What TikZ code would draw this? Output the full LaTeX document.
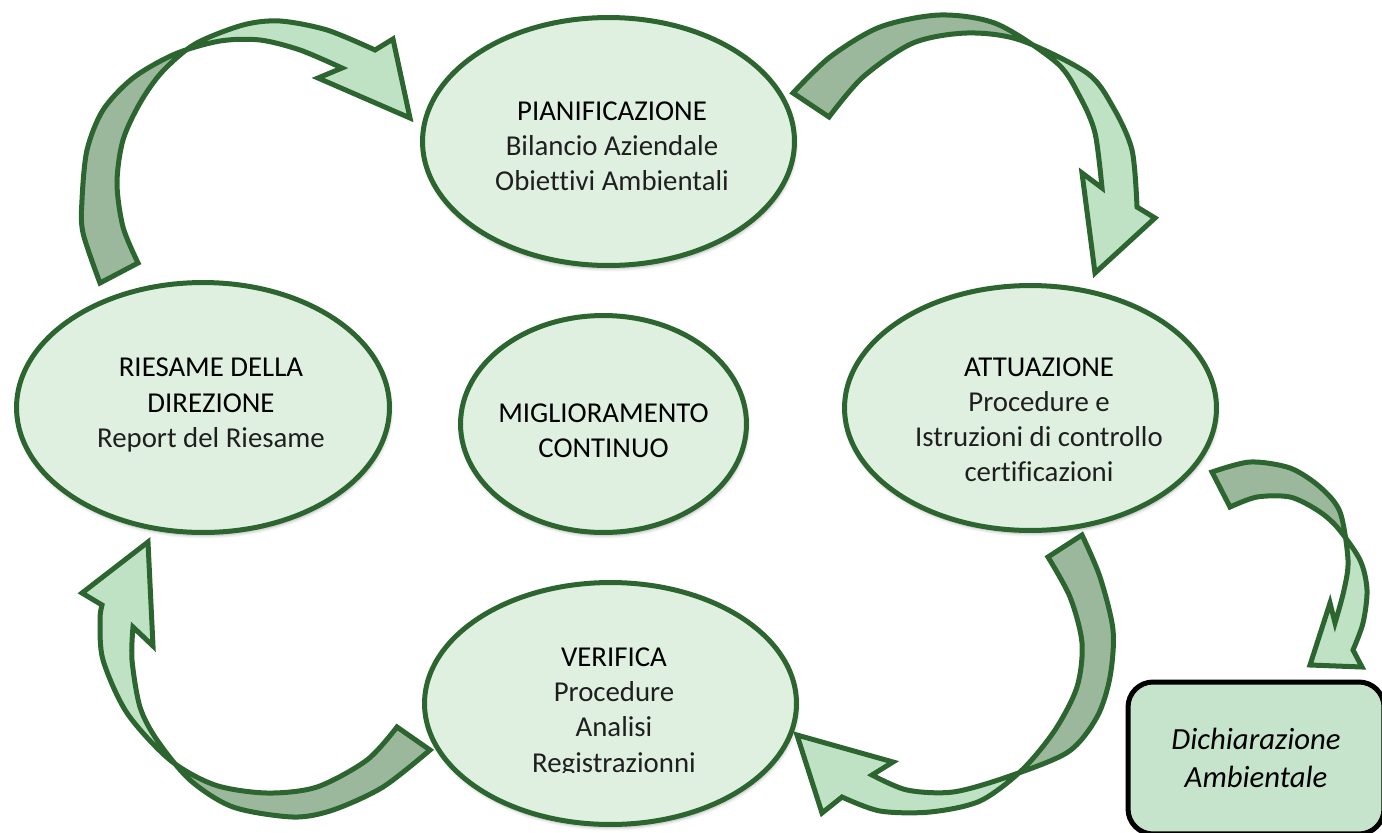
\documentclass[tikz,border=0pt]{standalone}
\usepackage{fontspec}
\setmainfont[Ligatures=NoCommon]{Carlito}
\usetikzlibrary{shapes.geometric,shadows.blur}
\definecolor{verde}{HTML}{2C6530}
\definecolor{verdechiaro}{HTML}{DFF0E1}
\definecolor{frecciachiara}{HTML}{C0E2C4}
\definecolor{frecciascura}{HTML}{9BB89D}
\definecolor{boxverde}{HTML}{C6E4CB}
\newcommand{\tit}[1]{\textcolor{black}{#1}}

% frecce ritorte: bordo interno della coda -> punta -> bordo esterno della coda
\def\frecciaUno{plot[smooth] coordinates {(829,117) (863,77) (913,43) (967,33) (1020,40) (1087,73) (1113,107) (1132,150) (1137,207)}
  -- (1155,218) -- (1095,273) -- (1082,173)
  -- plot[smooth] coordinates {(1102,188) (1095,133) (1080,97) (1057,63) (997,24) (940,15) (880,27) (830,57) (793,93)} -- cycle}
\def\frecciaDue{plot[smooth] coordinates {(1048,557) (1070,597) (1082,643) (1077,687) (1055,730) (1022,770) (980,801) (930,812) (880,811) (842,797)}
  -- (822,813) -- (797,735) -- (893,762)
  -- plot[smooth] coordinates {(872,775) (907,790) (953,792) (1007,777) (1068,752) (1097,717) (1110,677) (1113,630) (1100,577) (1082,535)} -- cycle}
\def\frecciaTre{plot[smooth] coordinates {(397,727) (367,760) (317,787) (267,793) (215,785) (170,760) (127,713) (103,660) (100,620) (102,605)}
  -- (82,593) -- (148,542) -- (153,646)
  -- plot[smooth] coordinates {(133,627) (132,660) (140,707) (157,740) (190,780) (233,807) (293,817) (333,810) (383,787) (430,750)} -- cycle}
\def\frecciaQuattro{plot[smooth] coordinates {(138,263) (123,227) (117,183) (123,140) (140,103) (162,72) (195,44) (243,25) (280,21) (327,30) (375,50)}
  -- (393,39) -- (410,118) -- (318,78)
  -- plot[smooth] coordinates {(342,68) (300,50) (260,40) (220,41) (175,54) (133,78) (103,110) (87,150) (82,200) (83,233) (100,283)} -- cycle}
\def\frecciaCinque{plot[smooth] coordinates {(1230,507) (1257,497) (1290,497) (1317,510) (1337,527) (1360,560) (1367,590) (1363,623) (1353,650)}
  -- (1362,667) -- (1310,665) -- (1330,603)
  -- plot[smooth] coordinates {(1335,623) (1344,590) (1348,560) (1340,512) (1320,487) (1290,468) (1250,462) (1212,472)} -- cycle}

\begin{document}
\begin{tikzpicture}[x=0.02cm,y=-0.02cm,
  fase/.style={ellipse,draw=verde,line width=0.1cm,fill=verdechiaro,
    blur shadow={shadow xshift=0.6pt,shadow yshift=-1.8pt,shadow opacity=30,shadow blur steps=6}},
  testo/.style={align=center,font=\fontsize{16.4pt}{20pt}\selectfont,text=black!88},
  bordo/.style={draw=verde,line width=0.1cm,line join=miter,miter limit=4},
  dichbox/.style={rectangle,rounded corners=0.5cm,draw=black,line width=0.1cm,fill=boxverde,
    align=center,font=\fontsize{17.5pt}{21.5pt}\selectfont\itshape,
    minimum width=5.12cm,minimum height=3.04cm}]
  \useasboundingbox (0,0) rectangle (1382,832);

  % --- fasi del ciclo
  \node[fase,minimum width=7.44cm,minimum height=4.96cm] (pian) at (608.5,141.5) {};
  \node[fase,minimum width=7.46cm,minimum height=5cm] (ries) at (203,407.5) {};
  \node[fase,minimum width=5.72cm,minimum height=4.34cm] (migl) at (603.5,424) {};
  \node[fase,minimum width=7.44cm,minimum height=4.9cm] (attu) at (1030.5,408) {};
  \node[fase,minimum width=7.44cm,minimum height=4.84cm] (veri) at (610.5,703.5) {};

  % --- testi
  \node[testo] (pianT) at (612,146.5) {\tit{PIANIFICAZIONE}\\Bilancio Aziendale\\Obiettivi Ambientali};
  \node[testo] (riesT) at (211,405) {\tit{RIESAME DELLA}\\\tit{DIREZIONE}\\Report del Riesame};
  \node[testo] (miglT) at (603.5,430.5) {\tit{MIGLIORAMENTO}\\\tit{CONTINUO}};
  \node[testo] (attuT) at (1039,420) {\tit{ATTUAZIONE}\\Procedure e\\Istruzioni di controllo\\certificazioni};
  \begin{scope}
    \clip (400,560) rectangle (830,772);
    \node[testo] (veriT) at (614,712.5) {\tit{VERIFICA}\\Procedure\\Analisi\\Registrazionni};
  \end{scope}

  % --- dichiarazione
  \node[dichbox] (dich) at (1256,758) {Dichiarazione\\Ambientale};

  % --- frecce: faccia chiara, poi il retro scuro fino all'incrocio, poi il bordo
  \fill[frecciachiara] \frecciaUno;
  \begin{scope}
    \clip (1047,-10) -- (892,300) -- (700,300) -- (700,-10) -- cycle;
    \fill[frecciascura] \frecciaUno;
  \end{scope}
  \path[bordo] \frecciaUno;

  \fill[frecciachiara] \frecciaDue;
  \begin{scope}
    \clip (857,500) -- (1061,840) -- (1250,840) -- (1250,500) -- cycle;
    \fill[frecciascura] \frecciaDue;
  \end{scope}
  \path[bordo] \frecciaDue;

  \fill[frecciachiara] \frecciaTre;
  \begin{scope}
    \clip (300,639) -- (50,889) -- (500,889) -- (500,639) -- cycle;
    \fill[frecciascura] \frecciaTre;
  \end{scope}
  \path[bordo] \frecciaTre;

  \fill[frecciachiara] \frecciaQuattro;
  \begin{scope}
    \clip (161,-10) -- (316,300) -- (0,300) -- (0,-10) -- cycle;
    \fill[frecciascura] \frecciaQuattro;
  \end{scope}
  \path[bordo] \frecciaQuattro;

  \fill[frecciachiara] \frecciaCinque;
  \begin{scope}
    \clip (1150,400) -- (1400,400) -- (1400,520) -- (1150,595) -- cycle;
    \fill[frecciascura] \frecciaCinque;
  \end{scope}
  \path[bordo] \frecciaCinque;
\end{tikzpicture}
\end{document}
